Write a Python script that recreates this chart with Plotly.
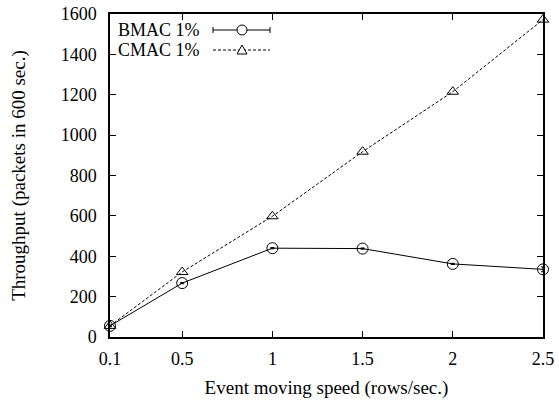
import plotly.graph_objects as go

speed = [0.1, 0.5, 1, 1.5, 2, 2.5]
speed_labels = ["0.1", "0.5", "1", "1.5", "2", "2.5"]
bmac = [55, 267, 440, 438, 362, 335]
bmac_err = [4, 3, 3, 3, 3, 12]
cmac = [55, 322, 598, 918, 1215, 1572]
y_ticks = [0, 200, 400, 600, 800, 1000, 1200, 1400, 1600]

FONT = "Liberation Serif"

fig = go.Figure()
fig.add_trace(go.Scatter(
    x=speed, y=bmac, mode="lines+markers", name="BMAC 1%",
    line=dict(color="black", width=1),
    marker=dict(symbol="circle-open", size=11, color="black", line=dict(width=1)),
    error_y=dict(type="data", array=bmac_err, color="black", thickness=1, width=2),
    cliponaxis=False, showlegend=False))
fig.add_trace(go.Scatter(
    x=speed, y=cmac, mode="lines+markers", name="CMAC 1%",
    line=dict(color="black", width=1, dash="3px,2px"),
    marker=dict(symbol="triangle-up-open", size=10, color="black", line=dict(width=1)),
    cliponaxis=False, showlegend=False))

# Gnuplot-style key (text, then line sample)
L, R, T, B = 110, 543, 14, 337
W, H = R - L, B - T
def px(x):
    return (x - L) / W
def py(y):
    return (B - y) / H

keys = [("BMAC 1%", 30, "solid"), ("CMAC 1%", 50, "3px,2px")]
for i, (label, yy, dash) in enumerate(keys):
    fig.add_annotation(x=px(202), y=py(yy), xref="paper", yref="paper", text=label,
                       showarrow=False, xanchor="right", yanchor="middle",
                       font=dict(family=FONT, size=18, color="black"))
    fig.add_shape(type="line", xref="paper", yref="paper", x0=px(213), x1=px(270),
                  y0=py(yy), y1=py(yy), line=dict(color="black", width=1, dash=dash))
    if i == 0:
        for xe in (213, 270):
            fig.add_shape(type="line", xref="paper", yref="paper", x0=px(xe), x1=px(xe),
                          y0=py(yy - 3), y1=py(yy + 3), line=dict(color="black", width=1))
        fig.add_shape(type="circle", xref="paper", yref="paper",
                      x0=px(242 - 5), x1=px(242 + 5), y0=py(yy + 5), y1=py(yy - 5),
                      line=dict(color="black", width=1), fillcolor="white")
    else:
        cx, cy = 242, yy
        path = f"M {px(cx)},{py(cy - 5)} L {px(cx + 5)},{py(cy + 4)} L {px(cx - 5)},{py(cy + 4)} Z"
        fig.add_shape(type="path", xref="paper", yref="paper", path=path,
                      line=dict(color="black", width=1), fillcolor="white")

fig.update_layout(
    width=559, height=402,
    margin=dict(l=L, r=559 - R, t=T, b=402 - B, autoexpand=False),
    paper_bgcolor="white", plot_bgcolor="white",
    font=dict(family=FONT, size=16, color="black"),
    xaxis=dict(range=[0.1, 2.5], tickvals=speed, ticktext=speed_labels, automargin=False,
               showgrid=False, zeroline=False, showline=True, linecolor="black",
               linewidth=1.5, mirror="ticks", ticks="inside", ticklen=6, tickcolor="black",
               tickfont=dict(size=18), ticklabelstandoff=5,
               title=dict(text="Event moving speed (rows/sec.)", standoff=12)),
    yaxis=dict(range=[0, 1600], tickvals=y_ticks, automargin=False,
               showgrid=False, zeroline=False, showline=True, linecolor="black",
               linewidth=1.5, mirror="ticks", ticks="inside", ticklen=6, tickcolor="black",
               tickfont=dict(size=18), ticklabelstandoff=8,
               title=dict(text="Throughput (packets in 600 sec.)", standoff=30)),
)

fig.write_html("out.html")
